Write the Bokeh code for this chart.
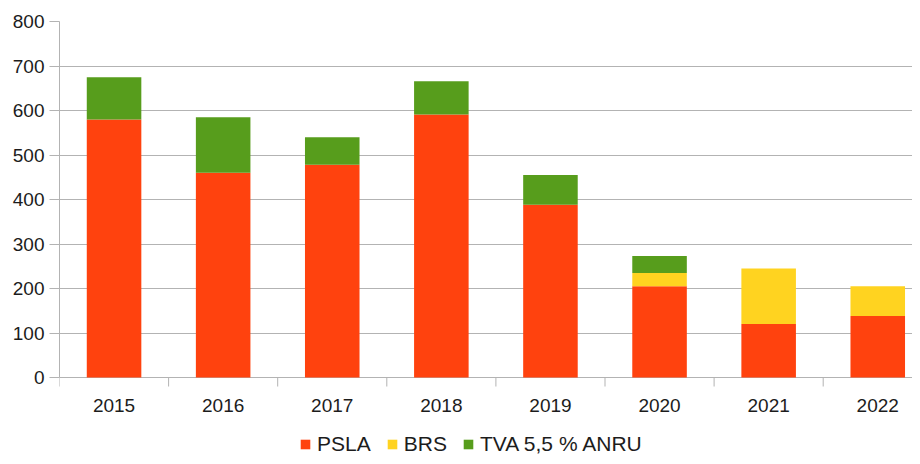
from bokeh.plotting import figure
from bokeh.models import ColumnDataSource, FixedTicker, Legend, LegendItem, Range1d
from bokeh.core.properties import value
from bokeh.embed import file_html
from bokeh.resources import INLINE

years = ["2015", "2016", "2017", "2018", "2019", "2020", "2021", "2022"]
psla = [580, 460, 478, 591, 388, 205, 120, 138]
brs = [0, 0, 0, 0, 0, 30, 125, 67]
tva = [95, 125, 62, 75, 67, 38, 0, 0]
series = ["PSLA", "BRS", "TVA 5,5 % ANRU"]
colors = ["#ff420e", "#ffd320", "#579d1c"]
y_ticks = [0, 100, 200, 300, 400, 500, 600, 700, 800]

idx = list(range(len(years)))
src = ColumnDataSource(dict(x=idx, PSLA=psla, BRS=brs, TVA=tva))

FONT = "Liberation Sans"
TXT = "#1c1c1c"
GRID = "#b3b3b3"

# layout (pixels)
W, H = 912, 456
LEFT, TOP, ZERO_Y = 59, 21, 377
CAT_PX = 109.1
YMAX = 800
PX_PER_UNIT = (ZERO_Y - TOP) / YMAX
Y_START = -(H - ZERO_Y) / PX_PER_UNIT
TICK_PX = 9

p = figure(width=W, height=H, output_backend="svg", toolbar_location=None,
           x_axis_location=None,
           x_range=Range1d(-0.5, -0.5 + (W - LEFT) / CAT_PX),
           y_range=Range1d(Y_START, YMAX))
p.min_border_left = LEFT
p.min_border_right = 0
p.min_border_top = TOP
p.min_border_bottom = 0
p.outline_line_color = None
p.background_fill_color = "white"
p.border_fill_color = "white"

p.xgrid.grid_line_color = None
p.ygrid.grid_line_color = GRID
p.ygrid.grid_line_width = 1
p.ygrid.ticker = FixedTicker(ticks=y_ticks)

rs = p.vbar_stack(["PSLA", "BRS", "TVA"], x="x", width=0.5, source=src,
                  color=colors, line_color=None)

# category axis: boundary ticks + labels below the zero line
bounds = [i - 0.5 for i in range(len(years) + 1)]
tick_len = TICK_PX / PX_PER_UNIT
p.segment(x0=bounds, y0=[0] * len(bounds), x1=bounds, y1=[-tick_len] * len(bounds),
          line_color=GRID, line_width=1)
p.text(x=idx, y=[0] * len(idx), text=years, y_offset=28,
       text_align="center", text_baseline="alphabetic",
       text_font=value(FONT), text_font_size=value("19px"), text_color=TXT)

ya = p.yaxis[0]
ya.bounds = (0, YMAX)
ya.ticker = FixedTicker(ticks=y_ticks)
ya.axis_line_color = GRID
ya.major_tick_line_color = GRID
ya.major_tick_out = 10
ya.major_tick_in = 0
ya.minor_tick_line_color = None
ya.major_label_standoff = 5
ya.major_label_text_font = FONT
ya.major_label_text_font_size = "19px"
ya.major_label_text_color = TXT

legend = Legend(items=[LegendItem(label=s, renderers=[r]) for s, r in zip(series, rs)],
                orientation="horizontal", location=(240, 0))
legend.label_text_font = FONT
legend.label_text_font_size = "21px"
legend.label_text_color = TXT
legend.glyph_width = 12
legend.glyph_height = 12
legend.label_standoff = 6
legend.spacing = 15
legend.padding = 0
legend.margin = 0
legend.border_line_color = None
legend.background_fill_alpha = 0
p.add_layout(legend, "center")

open("out.html", "w").write(file_html(p, INLINE))
